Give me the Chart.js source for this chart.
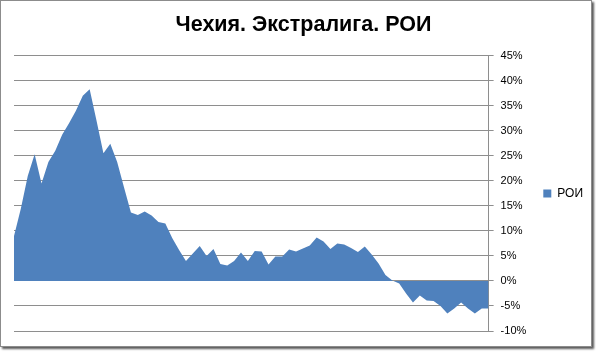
<!DOCTYPE html>
<html>
<head>
<meta charset="utf-8">
<title>Чехия. Экстралига. РОИ</title>
<script src="https://cdn.jsdelivr.net/npm/chart.js@4"></script>
<style>
    body { margin: 0; background: #fff; }
    .frame {
        position: absolute;
        left: 0; top: 0;
        width: 590px; height: 345px;
        border: 1px solid #8c8c8c;
        box-shadow: 2px 2px 2px rgba(0, 0, 0, 0.65);
        background: #fff;
    }
    #roiChart { position: absolute; left: 0; top: 0; }
</style>
</head>
<body>
<div class="frame"></div>
<canvas id="roiChart" width="596" height="352"></canvas>
<script>
// ROI by game, in percent
const roi = [
    9, 14.5, 21, 25.3, 19.5, 23.8, 26, 29.2, 31.5, 34,
    37, 38.3, 32, 25.5, 27.4, 23.8, 18.7, 13.7, 13.2, 13.9,
    13.1, 11.8, 11.5, 8.6, 6.2, 4, 5.5, 7, 5, 6.4,
    3.4, 3.1, 4, 5.7, 4, 6, 5.9, 3.3, 4.9, 4.9,
    6.3, 5.9, 6.5, 7.1, 8.7, 7.9, 6.4, 7.5, 7.3, 6.6,
    5.8, 6.9, 5.3, 3.5, 1.2, 0.1, -0.5, -2.5, -4.3, -2.9,
    -3.9, -4, -5, -6.5, -5.5, -4.3, -5.5, -6.5, -5.5, -5.5
];
const games = roi.map((v, i) => i + 1);

const seriesName = 'РОИ';
const chartTitle = 'Чехия. Экстралига. РОИ';
const yMin = -10;
const yMax = 45;
const yStep = 5;

const ctx = document.getElementById('roiChart').getContext('2d');
const roiChart = new Chart(ctx, {
    type: 'line',
    data: {
        labels: games,
        datasets: [{
            label: seriesName,
            data: roi,
            fill: 'origin',
            backgroundColor: '#4f81bd',
            borderColor: '#4f81bd',
            borderWidth: 0,
            pointRadius: 0,
            tension: 0
        }]
    },
    options: {
        responsive: false,
        animation: false,
        devicePixelRatio: 1,
        layout: {
            padding: { left: 14, right: 3, top: 0, bottom: 21 }
        },
        plugins: {
            title: {
                display: true,
                text: chartTitle,
                color: '#000',
                font: { family: 'Liberation Sans', size: 21.5, weight: 'bold' },
                padding: { top: 12, bottom: 18 }
            },
            legend: {
                position: 'right',
                fullSize: false,
                labels: {
                    color: '#000',
                    boxWidth: 8,
                    boxHeight: 8,
                    font: { family: 'Liberation Sans', size: 12 }
                }
            },
            tooltip: { enabled: false }
        },
        scales: {
            x: {
                display: false
            },
            y: {
                position: 'right',
                min: yMin,
                max: yMax,
                ticks: {
                    stepSize: yStep,
                    color: '#000',
                    padding: 7,
                    font: { family: 'Liberation Sans', size: 11 },
                    callback: value => value + '%'
                },
                grid: {
                    color: '#8e8e8e',
                    tickLength: 5
                },
                border: { display: true, color: '#8e8e8e' }
            }
        }
    }
});
</script>
</body>
</html>
